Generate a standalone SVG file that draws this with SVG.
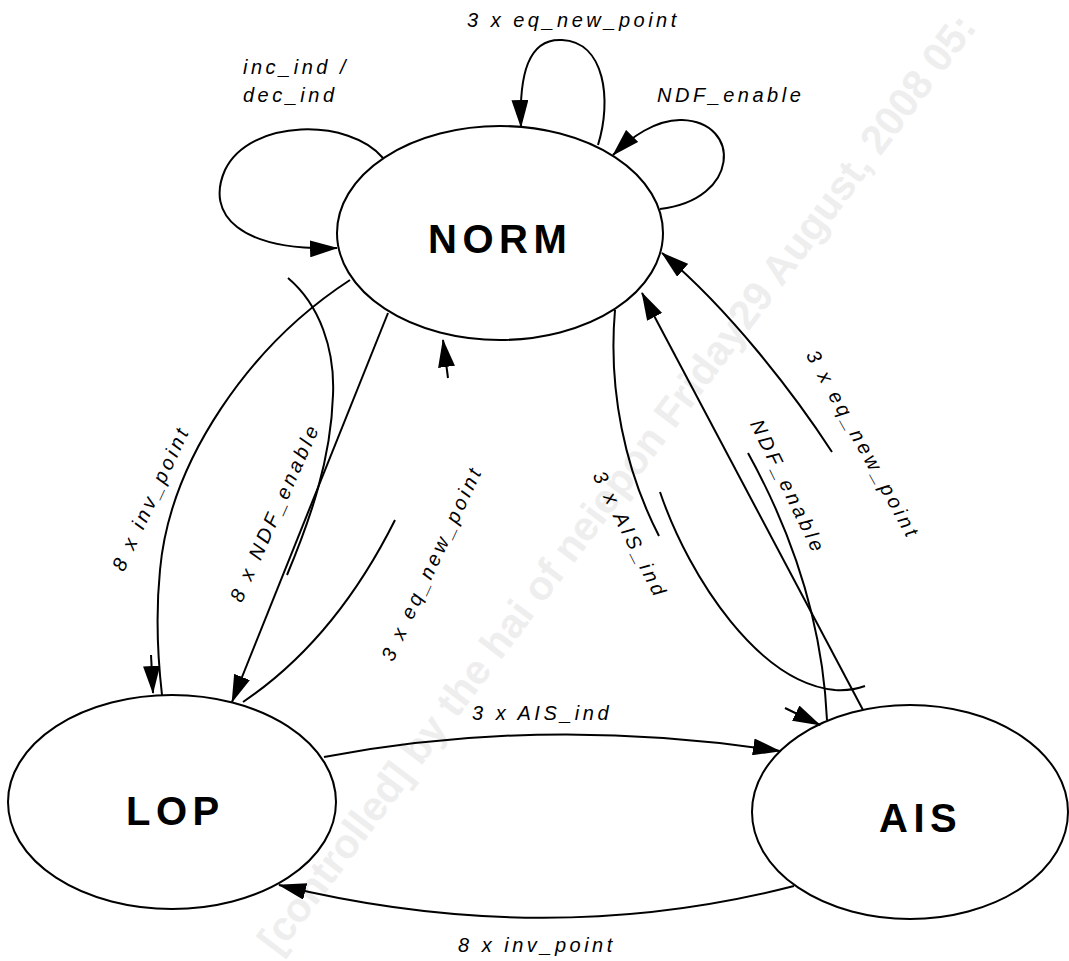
<svg xmlns="http://www.w3.org/2000/svg" width="1069" height="961" viewBox="0 0 1069 961">
<style>
.node{fill:none;stroke:#000;stroke-width:2}
.nl{font-family:"Liberation Sans",Arial,sans-serif;font-weight:bold;font-size:40px;letter-spacing:5.5px;fill:#000}
.lb{font-family:"Liberation Sans",Arial,sans-serif;font-style:italic;font-size:20px;letter-spacing:3.5px;fill:#000}
.c{fill:none;stroke:#000;stroke-width:2}
.ca{fill:none;stroke:#000;stroke-width:2;marker-end:url(#ah)}
.wm{font-family:"Liberation Sans",Arial,sans-serif;font-weight:bold;font-size:41px;fill:#eeeeee}
</style>
<defs>
<marker id="ah" viewBox="0 0 28 17" refX="27" refY="8.5" markerWidth="28" markerHeight="17" markerUnits="userSpaceOnUse" orient="auto"><path d="M0,0 L28,8.5 L0,17 z" fill="#000"/></marker>
</defs>
<rect width="1069" height="961" fill="#fff"/>
<g id="watermark">
<text class="wm" transform="translate(278,956) rotate(-53)">[controlled] by the hai of neiepon Friday29 August, 2008 05:</text>
</g>
<g id="connectors">
<path class="ca" d="M383,158 C350,118 250,118 225,170 C205,215 240,251 337,248"/>
<path class="ca" d="M598,145 C612,100 605,42 562,40 C528,38 519,75 521,127"/>
<path class="ca" d="M660,209 C740,200 742,122 682,120 C656,119 630,138 613,155"/>
<path class="c" d="M350,280 C250,345 170,460 160,570 C155,620 158,660 162,695"/>
<path class="ca" d="M151,655 L153,693"/>
<path class="ca" d="M388,313 L232,702"/>
<path class="c" d="M288,278 C320,305 335,350 333,395 C331,460 310,520 287,575"/>
<path class="c" d="M243,702 Q335,640 395,520"/>
<path class="ca" d="M448,378 L443,340"/>
<path class="c" d="M615,310 C608,390 625,470 659,536"/>
<path class="c" d="M660,492 C690,580 760,683 835,690 Q852,691 865,686"/>
<path class="ca" d="M785,708 L820,725"/>
<path class="ca" d="M863,710 L642,293"/>
<path class="c" d="M748,453 C785,520 822,610 827,720"/>
<path class="ca" d="M832,452 C795,395 730,310 662,253"/>
<path class="ca" d="M324,757 Q545,715 780,751"/>
<path class="ca" d="M794,886 Q545,950 279,885"/>
</g>
<g id="NORM">
<ellipse class="node" cx="500" cy="233" rx="163" ry="107"/>
<text class="nl" x="428" y="253">NORM</text>
</g>
<g id="LOP">
<ellipse class="node" cx="172" cy="802" rx="164" ry="107"/>
<text class="nl" x="126" y="825">LOP</text>
</g>
<g id="AIS">
<ellipse class="node" cx="910" cy="812" rx="158" ry="107"/>
<text class="nl" x="879" y="832">AIS</text>
</g>
<g id="labels">
<text class="lb" x="467" y="27">3 x eq_new_point</text>
<text class="lb" x="243" y="74">inc_ind /</text>
<text class="lb" x="243" y="102">dec_ind</text>
<text class="lb" x="657" y="102">NDF_enable</text>
<text class="lb" text-anchor="middle" transform="translate(157,501) rotate(-65)">8 x inv_point</text>
<text class="lb" text-anchor="middle" transform="translate(281,515) rotate(-66)">8 x NDF_enable</text>
<text class="lb" text-anchor="middle" transform="translate(438,566) rotate(-65)">3 x eq_new_point</text>
<text class="lb" text-anchor="middle" transform="translate(624,538) rotate(63)">3 x AIS_ind</text>
<text class="lb" text-anchor="middle" transform="translate(782,490) rotate(64)">NDF_enable</text>
<text class="lb" text-anchor="middle" transform="translate(857,448) rotate(61)">3 x eq_new_point</text>
<text class="lb" x="472" y="720">3 x AIS_ind</text>
<text class="lb" x="458" y="952">8 x inv_point</text>
</g>
</svg>
